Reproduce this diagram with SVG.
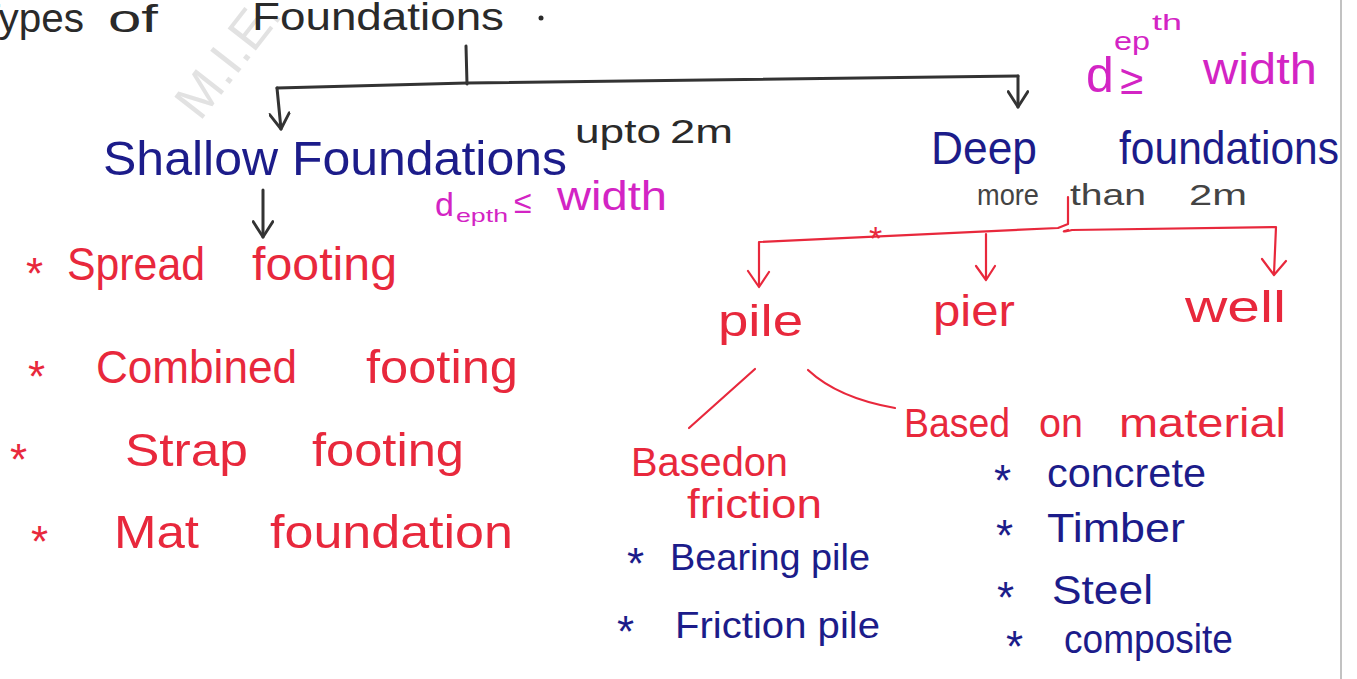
<svg xmlns="http://www.w3.org/2000/svg" width="1357" height="679" viewBox="0 0 1357 679">
  <style>
    text { font-family: "Liberation Sans", "DejaVu Sans", sans-serif; }
    .ink-black { fill: #2a2a2a; }
    .ink-gray { fill: #444; }
    .ink-blue { fill: #1c1c8a; }
    .ink-red { fill: #e8283c; }
    .ink-mag { fill: #d324c4; }
    .star { font-size: 44px; }
    .wire-black { stroke: #333; stroke-width: 3; fill: none; stroke-linecap: round; stroke-linejoin: round; }
    .wire-red { stroke: #e8283c; stroke-width: 2.2; fill: none; stroke-linecap: round; stroke-linejoin: round; }
  </style>
  <defs>
    <marker id="headBlack" viewBox="0 0 20 20" refX="18" refY="10" markerWidth="22" markerHeight="22" markerUnits="userSpaceOnUse" orient="auto">
      <path d="M4 1 L18 10 L4 19" fill="none" stroke="#333" stroke-width="2.6" stroke-linecap="round" stroke-linejoin="round"/>
    </marker>
  </defs>
  <rect width="1357" height="679" fill="#ffffff"/>

  <!-- page edge on the right -->
  <line x1="1341" y1="0" x2="1341" y2="679" stroke="#999" stroke-width="1.2"/>

  <!-- faint watermark -->
  <text x="200" y="122" transform="rotate(-52 200 122)" font-size="52" fill="#e2e2e2" font-family="Liberation Serif, serif">M.I.E.</text>

  <g id="title">
    <text class="ink-black" x="-24" y="32" font-size="40" textLength="108" lengthAdjust="spacingAndGlyphs">Types</text>
    <text class="ink-black" x="108" y="32" font-size="38" textLength="50" lengthAdjust="spacingAndGlyphs">of</text>
    <text class="ink-black" x="252" y="30" font-size="38" textLength="252" lengthAdjust="spacingAndGlyphs">Foundations</text>
    <circle cx="541" cy="18" r="2.5" fill="#2a2a2a"/>
  </g>

  <g id="connectors">
    <!-- main split -->
    <path class="wire-black" d="M466 46 L467 84"/>
    <path class="wire-black" d="M277 88 L467 83 L1018 76"/>
    <path class="wire-black" d="M277 88 L281 129" marker-end="url(#headBlack)"/>
    <path class="wire-black" d="M1018 76 L1018 107" marker-end="url(#headBlack)"/>
    <path class="wire-black" d="M263 190 L263 237" marker-end="url(#headBlack)"/>
    <!-- deep foundation branches -->
    <path class="wire-red" d="M1068 197 L1068 224 L1058 228 L759 242 L759 286"/>
    <path class="wire-red" d="M748 271 L759 287 L769 272"/>
    <path class="wire-red" d="M986 234 L986 279"/>
    <path class="wire-red" d="M976 266 L986 280 L995 266"/>
    <path class="wire-red" d="M1068 230 Q1058 233 1072 230 L1276 227 L1274 274"/>
    <path class="wire-red" d="M1262 259 L1274 275 L1286 261"/>
    <text class="ink-red" x="869" y="250" font-size="34">*</text>
    <!-- pile sub-branches -->
    <path class="wire-red" d="M755 369 L689 428"/>
    <path class="wire-red" d="M808 370 Q838 398 895 408"/>
  </g>

  <g id="shallow">
    <text class="ink-blue" x="103" y="175" font-size="48" textLength="464" lengthAdjust="spacingAndGlyphs">Shallow Foundations</text>
    <text class="ink-black" x="575" y="143" font-size="34" textLength="86" lengthAdjust="spacingAndGlyphs">upto</text>
    <text class="ink-black" x="670" y="143" font-size="34" textLength="63" lengthAdjust="spacingAndGlyphs">2m</text>
    <text class="ink-mag" x="435" y="216" font-size="34">d</text>
    <text class="ink-mag" x="456" y="222" font-size="19" textLength="52" lengthAdjust="spacingAndGlyphs">epth</text>
    <text class="ink-mag" x="514" y="213" font-size="32">≤</text>
    <text class="ink-mag" x="557" y="210" font-size="40" textLength="110" lengthAdjust="spacingAndGlyphs">width</text>
  </g>

  <g id="shallow-list">
    <text class="ink-red star" x="26" y="289">*</text>
    <text class="ink-red" x="67" y="280" font-size="46" textLength="138" lengthAdjust="spacingAndGlyphs">Spread</text>
    <text class="ink-red" x="252" y="280" font-size="46" textLength="145" lengthAdjust="spacingAndGlyphs">footing</text>
    <text class="ink-red star" x="28" y="392">*</text>
    <text class="ink-red" x="96" y="383" font-size="46" textLength="201" lengthAdjust="spacingAndGlyphs">Combined</text>
    <text class="ink-red" x="366" y="383" font-size="46" textLength="152" lengthAdjust="spacingAndGlyphs">footing</text>
    <text class="ink-red star" x="10" y="475">*</text>
    <text class="ink-red" x="125" y="466" font-size="46" textLength="123" lengthAdjust="spacingAndGlyphs">Strap</text>
    <text class="ink-red" x="312" y="466" font-size="46" textLength="152" lengthAdjust="spacingAndGlyphs">footing</text>
    <text class="ink-red star" x="31" y="557">*</text>
    <text class="ink-red" x="114" y="548" font-size="46" textLength="85" lengthAdjust="spacingAndGlyphs">Mat</text>
    <text class="ink-red" x="270" y="548" font-size="46" textLength="243" lengthAdjust="spacingAndGlyphs">foundation</text>
  </g>

  <g id="deep">
    <text class="ink-blue" x="931" y="164" font-size="46" textLength="106" lengthAdjust="spacingAndGlyphs">Deep</text>
    <text class="ink-blue" x="1119" y="164" font-size="46" textLength="220" lengthAdjust="spacingAndGlyphs">foundations</text>
    <text class="ink-gray" x="977" y="205" font-size="30" textLength="62" lengthAdjust="spacingAndGlyphs">more</text>
    <text class="ink-gray" x="1070" y="205" font-size="30" textLength="76" lengthAdjust="spacingAndGlyphs">than</text>
    <text class="ink-gray" x="1189" y="205" font-size="30" textLength="58" lengthAdjust="spacingAndGlyphs">2m</text>
    <text class="ink-mag" x="1086" y="92" font-size="50">d</text>
    <text class="ink-mag" x="1114" y="50" font-size="26" textLength="36" lengthAdjust="spacingAndGlyphs">ep</text>
    <text class="ink-mag" x="1152" y="30" font-size="22" textLength="30" lengthAdjust="spacingAndGlyphs">th</text>
    <text class="ink-mag" x="1120" y="94" font-size="42">≥</text>
    <text class="ink-mag" x="1203" y="84" font-size="44" textLength="114" lengthAdjust="spacingAndGlyphs">width</text>
  </g>

  <g id="pile">
    <text class="ink-red" x="718" y="336" font-size="44" textLength="85" lengthAdjust="spacingAndGlyphs">pile</text>
  </g>
  <g id="pier">
    <text class="ink-red" x="933" y="326" font-size="44" textLength="82" lengthAdjust="spacingAndGlyphs">pier</text>
  </g>
  <g id="well">
    <text class="ink-red" x="1185" y="322" font-size="44" textLength="101" lengthAdjust="spacingAndGlyphs">well</text>
  </g>

  <g id="by-friction">
    <text class="ink-red" x="631" y="476" font-size="40" textLength="157" lengthAdjust="spacingAndGlyphs">Basedon</text>
    <text class="ink-red" x="687" y="518" font-size="40" textLength="135" lengthAdjust="spacingAndGlyphs">friction</text>
    <text class="ink-blue star" x="627" y="579">*</text>
    <text class="ink-blue" x="670" y="570" font-size="36" textLength="200" lengthAdjust="spacingAndGlyphs">Bearing pile</text>
    <text class="ink-blue star" x="617" y="647">*</text>
    <text class="ink-blue" x="675" y="638" font-size="36" textLength="205" lengthAdjust="spacingAndGlyphs">Friction pile</text>
  </g>

  <g id="by-material">
    <text class="ink-red" x="904" y="437" font-size="40" textLength="106" lengthAdjust="spacingAndGlyphs">Based</text>
    <text class="ink-red" x="1039" y="437" font-size="40" textLength="44" lengthAdjust="spacingAndGlyphs">on</text>
    <text class="ink-red" x="1119" y="437" font-size="40" textLength="167" lengthAdjust="spacingAndGlyphs">material</text>
    <text class="ink-blue star" x="994" y="496">*</text>
    <text class="ink-blue" x="1047" y="487" font-size="40" textLength="159" lengthAdjust="spacingAndGlyphs">concrete</text>
    <text class="ink-blue star" x="996" y="551">*</text>
    <text class="ink-blue" x="1047" y="542" font-size="40" textLength="138" lengthAdjust="spacingAndGlyphs">Timber</text>
    <text class="ink-blue star" x="997" y="613">*</text>
    <text class="ink-blue" x="1052" y="604" font-size="40" textLength="101" lengthAdjust="spacingAndGlyphs">Steel</text>
    <text class="ink-blue star" x="1006" y="662">*</text>
    <text class="ink-blue" x="1064" y="653" font-size="40" textLength="169" lengthAdjust="spacingAndGlyphs">composite</text>
  </g>
</svg>
